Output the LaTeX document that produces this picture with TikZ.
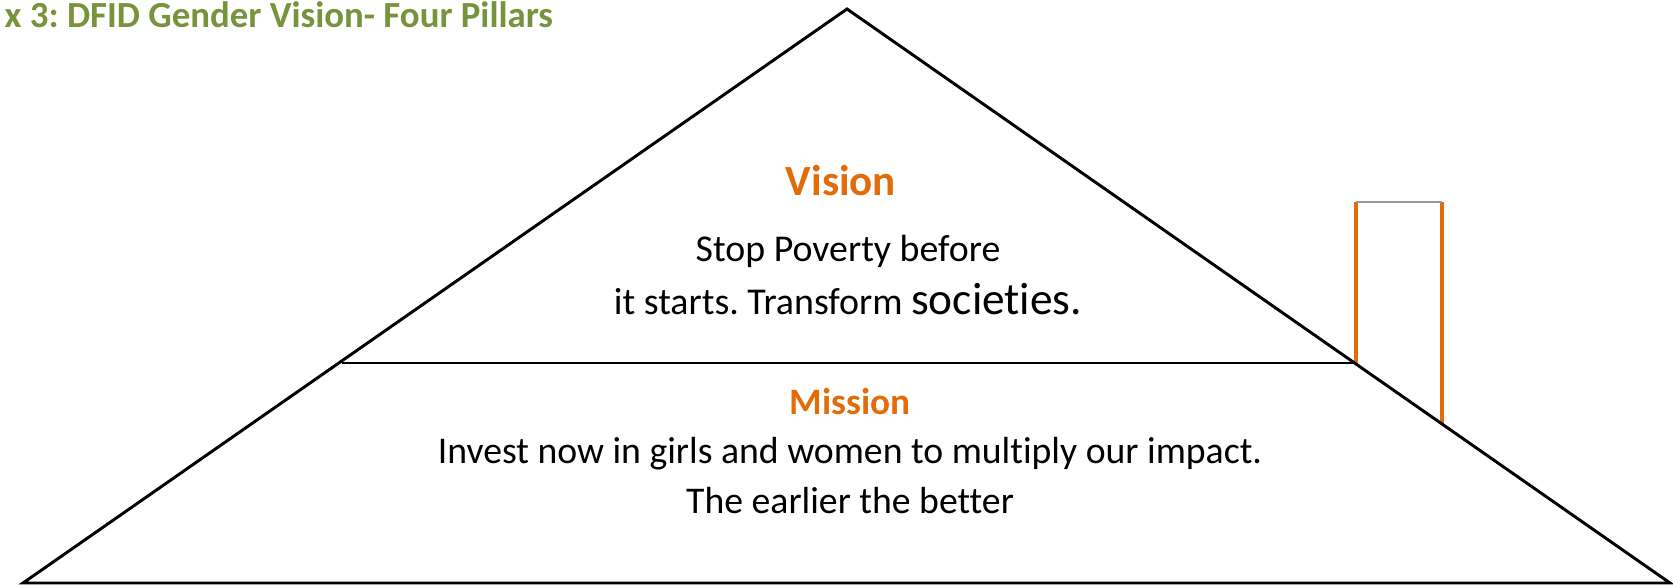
\documentclass[tikz,border=0pt]{standalone}
\usepackage{fontspec}
\setmainfont{Carlito}[Ligatures=NoCommon]
\definecolor{roofgreen}{HTML}{77933C}
\definecolor{roofor}{HTML}{E36C0A}
\frenchspacing
\begin{document}
\begin{tikzpicture}[x=0.75pt,y=-0.75pt,
  roof/.style={draw=black,line width=2.2pt,line join=miter},
  chim/.style={draw=roofor,line width=2.4pt},
  head/.style={text=roofor,font=\bfseries},
  body/.style={text=black,align=center},
  title/.style={text=roofgreen,font=\bfseries\fontsize{27.6}{30}\selectfont,anchor=base west}]
\useasboundingbox (0,0) rectangle (1673,585);
% roof points
\coordinate (apex) at (847,9);
\coordinate (bl) at (23,583);
\coordinate (br) at (1670,583);
\coordinate (vl) at (342,363);
\coordinate (vr) at (1356,363);
\coordinate (cbl) at (1356,363);
\coordinate (ctl) at (1356,202);
\coordinate (ctr) at (1442,202);
\coordinate (cbr) at (1442,424);
% chimney
\draw[chim] (cbl) -- (ctl);
\draw[chim] (ctr) -- (cbr);
\draw[draw=gray!80,line width=0.8pt] (ctl) -- (ctr);
% house outline
\draw[roof] (bl) -- (apex) -- (br) -- cycle;
\draw[roof] (vl) -- (vr);
% texts
\node[title] (t) at (0,28) {x 3: DFID Gender Vision- Four Pillars};
\node[head,font=\bfseries\fontsize{32.3}{36}\selectfont] (vis) at (841,181) {Vision};
\node[body,font=\fontsize{28.4}{36}\selectfont] (v1) at (848,251) {Stop Poverty before};
\node[body,font=\fontsize{28.4}{36}\selectfont] (v2) at (848,299) {it starts. Transform {\fontsize{34}{36}\selectfont societies.}};
\node[head,font=\bfseries\fontsize{28}{32}\selectfont] (mis) at (850,402) {Mission};
\node[body,font=\fontsize{28.3}{36}\selectfont] (m1) at (850,454) {Invest now in girls and women to multiply our impact.};
\node[body,font=\fontsize{28.3}{36}\selectfont] (m2) at (850,501) {The earlier the better};
\end{tikzpicture}
\end{document}
